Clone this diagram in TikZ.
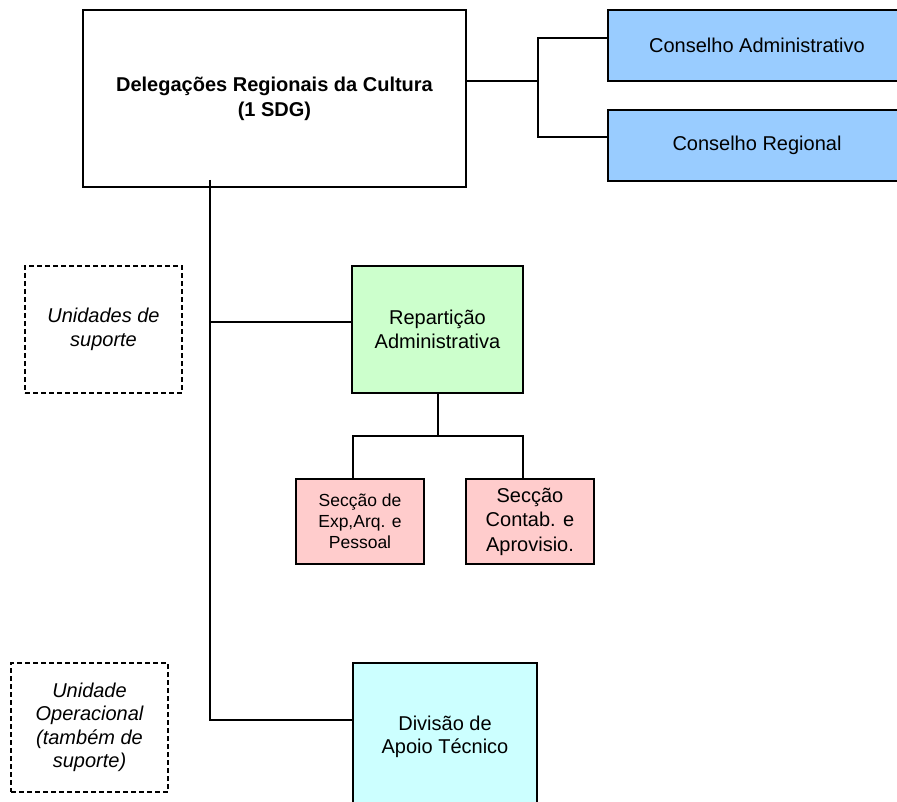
\documentclass[tikz,border=0pt]{standalone}
\usepackage{fontspec}
\setmainfont{Liberation Sans}
\definecolor{cblue}{HTML}{99CCFF}
\definecolor{cgreen}{HTML}{CCFFCC}
\definecolor{cpink}{HTML}{FFCCCC}
\definecolor{ccyan}{HTML}{CCFFFF}
\tikzset{
  unitbox/.style={draw=black, line width=1.2pt, inner sep=0pt, align=center,
    font=\fontsize{20}{24.5}\selectfont},
  dashbox/.style={unitbox, dash pattern=on 5pt off 3pt, line width=1.5pt,
    font=\fontsize{20}{23.5}\selectfont\itshape},
  conn/.style={draw=black, line width=2pt}
}
\begin{document}
\begin{tikzpicture}[x=1pt,y=-1pt]
\clip (0,0) rectangle (897,802);
\fill[white] (0,0) rectangle (897,802);

% top level and councils
\node[unitbox, fill=white, minimum width=383, minimum height=177,
      font=\fontsize{20}{25}\selectfont\bfseries] (main) at (274.5,98.5)
      {Delegações Regionais da Cultura\\(1 SDG)};
\node[unitbox, fill=cblue, minimum width=298, minimum height=71] (ca) at (757,45.5)
      {Conselho Administrativo};
\node[unitbox, fill=cblue, minimum width=298, minimum height=71] (cr) at (757,145.5)
      {Conselho Regional};

% support units
\node[unitbox, fill=cgreen, minimum width=171, minimum height=127] (rep) at (437.5,329.5)
      {Repartição\\Administrativa};
\node[unitbox, fill=cpink, minimum width=128, minimum height=85,
      font=\fontsize{17.5}{21}\selectfont] (s1) at (360,521.5)
      {Secção de\\Exp,Arq. e\\Pessoal};
\node[unitbox, fill=cpink, minimum width=128, minimum height=85] (s2) at (530,521.5)
      {Secção\\Contab. e\\Aprovisio.};

% operational unit
\node[unitbox, fill=ccyan, minimum width=184, minimum height=147,
      font=\fontsize{20}{23}\selectfont] (dat) at (445,736.5)
      {Divisão de\\Apoio Técnico};

% legend boxes
\node[dashbox, minimum width=157, minimum height=127] (lsup) at (103.5,329.5)
      {Unidades de\\suporte};
\node[dashbox, minimum width=157, minimum height=129] (lop) at (89.5,727.5)
      {Unidade\\Operacional\\(também de\\suporte)};

% connectors to the councils
\coordinate (cj) at (538,81);
\draw[conn] (main.east |- cj) -- (cj);
\draw[conn] (ca.west |- 0,38) -| (cj) |- (cr.west |- 0,137);

% main trunk
\coordinate (tt) at (210,180);
\coordinate (tb) at (210,720);
\draw[conn] (tt) -- (tb) -- (dat.west |- tb);
\draw[conn] (210,322) -- (rep.west |- 0,322);

% sections under the administrative office
\coordinate (rj) at (438,436);
\draw[conn] (rep.south -| rj) -- (rj);
\draw[conn] (s1.north -| 352.5,0) |- (rj) -| (s2.north -| 523,0);
\end{tikzpicture}
\end{document}
